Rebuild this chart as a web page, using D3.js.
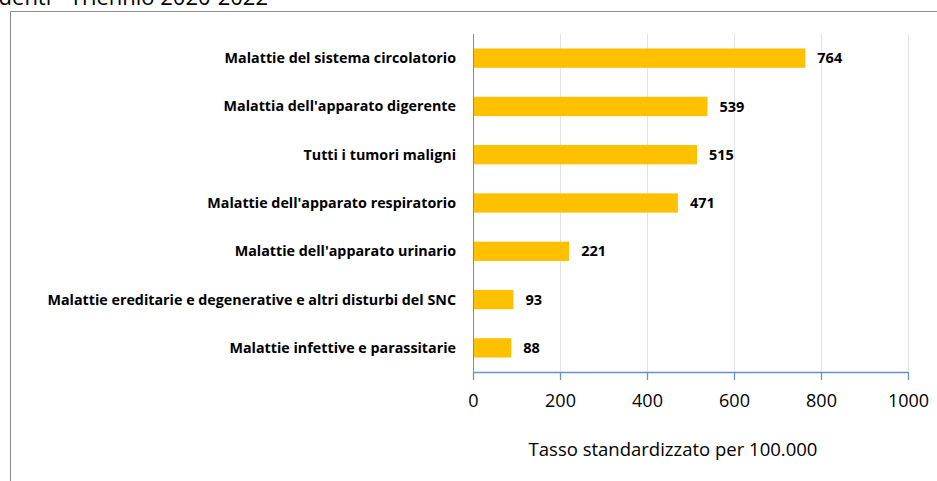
<!DOCTYPE html>
<html>
<head>
<meta charset="utf-8">
<script src="https://cdn.jsdelivr.net/npm/d3@7"></script>
<style>
  body { margin: 0; background: #fff; }
  svg { display: block; }
  text { font-family: "Open Sans", Lato, sans-serif; fill: #000; }
  .cat text { font-weight: bold; font-size: 14.3px; }
  .val { font-weight: bold; font-size: 14.5px; }
  .x.axis text { font-size: 18px; }
</style>
</head>
<body>
<div id="chart"></div>
<script>
const categories = [
  "Malattie del sistema circolatorio",
  "Malattia dell'apparato digerente",
  "Tutti i tumori maligni",
  "Malattie dell'apparato respiratorio",
  "Malattie dell'apparato urinario",
  "Malattie ereditarie e degenerative e altri disturbi del SNC",
  "Malattie infettive e parassitarie"
];
const values = [764, 539, 515, 471, 221, 93, 88];
const xTicks = [0, 200, 400, 600, 800, 1000];
const titleText = "Residenti - Triennio 2020-2022";
const xTitle = "Tasso standardizzato per 100.000";

const W = 937, H = 481;
const margin = { top: 34, right: 29, bottom: 109, left: 473 };
const width = W - margin.left - margin.right;
const height = H - margin.top - margin.bottom;

const svg = d3.select("#chart").append("svg")
  .attr("width", W)
  .attr("height", H);

// chart frame (only top & left edges are in view)
svg.append("path")
  .attr("d", `M10.5,${H} L10.5,11.5 L${W},11.5`)
  .attr("fill", "none")
  .attr("stroke", "#8c8c8c")
  .attr("stroke-width", 1);

svg.append("text")
  .attr("x", 268)
  .attr("y", 5)
  .attr("text-anchor", "end")
  .style("font-size", "22px")
  .text(titleText);

const g = svg.append("g")
  .attr("transform", `translate(${margin.left},${margin.top})`);

const xScale = d3.scaleLinear().domain([0, 1000]).range([0, width]);
const yScale = d3.scaleBand().domain(categories).range([0, height])
  .paddingInner(0.6).paddingOuter(0.3);

// gridlines
g.append("g")
  .selectAll("line")
  .data(xTicks.slice(1))
  .enter()
  .append("line")
  .attr("x1", d => Math.round(xScale(d)) + 0.5)
  .attr("x2", d => Math.round(xScale(d)) + 0.5)
  .attr("y1", 0)
  .attr("y2", height)
  .attr("stroke", "#e3e3e3");

// bars
g.selectAll(".bar")
  .data(values)
  .enter()
  .append("rect")
  .attr("class", "bar")
  .attr("x", xScale(0))
  .attr("y", (d, i) => yScale(categories[i]))
  .attr("width", d => xScale(d))
  .attr("height", yScale.bandwidth())
  .attr("fill", "#ffc000");

// value labels
g.selectAll(".val")
  .data(values)
  .enter()
  .append("text")
  .attr("class", "val")
  .attr("x", d => xScale(d) + 12)
  .attr("y", (d, i) => yScale(categories[i]) + yScale.bandwidth() / 2)
  .attr("dy", "0.35em")
  .text(d => d);

// category labels
const cat = g.append("g").attr("class", "cat");
cat.selectAll("text")
  .data(categories)
  .enter()
  .append("text")
  .attr("x", -17)
  .attr("y", d => yScale(d) + yScale.bandwidth() / 2)
  .attr("dy", "0.35em")
  .attr("text-anchor", "end")
  .text(d => d);

// y axis line
g.append("line")
  .attr("x1", 0.5).attr("x2", 0.5)
  .attr("y1", 0).attr("y2", height)
  .attr("stroke", "#8c8c8c");

// x axis
const xAxis = d3.axisBottom(xScale)
  .tickValues(xTicks)
  .tickSize(8)
  .tickPadding(14)
  .tickFormat(d3.format("d"));

const ax = g.append("g")
  .attr("class", "x axis")
  .attr("transform", `translate(0,${height})`)
  .call(xAxis);
ax.attr("font-family", null).attr("font-size", null);
ax.select(".domain").attr("stroke", "#6a90c8").attr("stroke-width", 1.3).attr("d", `M0.5,0.5H${width}`);
ax.selectAll(".tick line").attr("stroke", "#6a90c8").attr("stroke-width", 1.3);

g.append("text")
  .attr("x", 673 - margin.left)
  .attr("y", height + 84)
  .attr("text-anchor", "middle")
  .style("font-size", "18.5px")
  .text(xTitle);
</script>
</body>
</html>
